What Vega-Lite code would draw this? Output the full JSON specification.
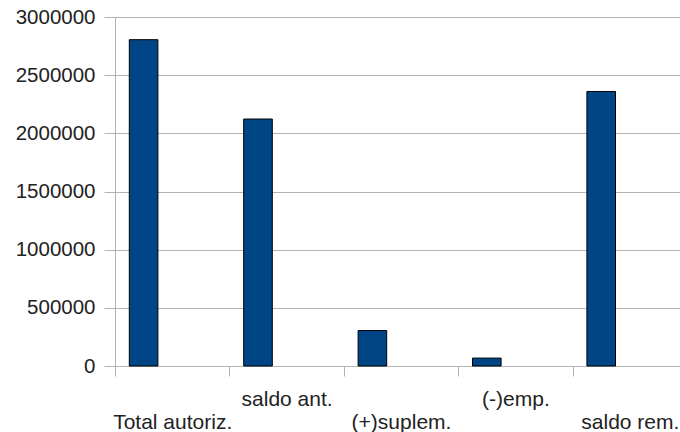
{
  "$schema": "https://vega.github.io/schema/vega-lite/v6.json",
  "autosize": {"type": "none"},
  "padding": {"left": 115, "top": 17, "right": 0, "bottom": 66},
  "width": 572,
  "height": 349,
  "background": "white",
  "data": {
    "values": [
      {"categoria": "Total autoriz.", "serie": "A", "valor": 2805000},
      {"categoria": "saldo ant.", "serie": "A", "valor": 2123000},
      {"categoria": "(+)suplem.", "serie": "A", "valor": 305000},
      {"categoria": "(-)emp.", "serie": "A", "valor": 68000},
      {"categoria": "saldo rem.", "serie": "A", "valor": 2360000}
    ]
  },
  "mark": {"type": "bar", "color": "#004586", "stroke": "#000000", "strokeWidth": 1},
  "encoding": {
    "x": {
      "field": "categoria",
      "type": "nominal",
      "sort": null,
      "scale": {"paddingInner": 0, "paddingOuter": 0},
      "axis": {
        "title": null,
        "labelAngle": 0,
        "labelFont": "Liberation Sans",
        "labelFontSize": 21,
        "labelColor": "#222222",
        "labelBaseline": "alphabetic",
        "labelPadding": 29,
        "labelLineHeight": 23,
        "labelExpr": "indexof(['saldo ant.', '(-)emp.'], datum.value) >= 0 ? datum.value : [' ', datum.value]",
        "tickSize": 10,
        "tickColor": "#b3b3b3",
        "tickBand": "extent",
        "domainColor": "#b3b3b3",
        "grid": false,
        "labelOverlap": false
      }
    },
    "xOffset": {
      "field": "serie",
      "type": "nominal",
      "scale": {"domain": ["A", "B", "C"], "paddingInner": 0, "paddingOuter": 0.5}
    },
    "y": {
      "field": "valor",
      "type": "quantitative",
      "scale": {"domain": [0, 3000000], "nice": false},
      "axis": {
        "title": null,
        "values": [0, 500000, 1000000, 1500000, 2000000, 2500000, 3000000],
        "format": "d",
        "labelFont": "Liberation Sans",
        "labelFontSize": 20.5,
        "labelColor": "#222222",
        "labelPadding": 9,
        "tickSize": 11,
        "tickColor": "#b3b3b3",
        "gridColor": "#b3b3b3",
        "domainColor": "#b3b3b3"
      }
    }
  },
  "config": {"view": {"stroke": null}}
}
